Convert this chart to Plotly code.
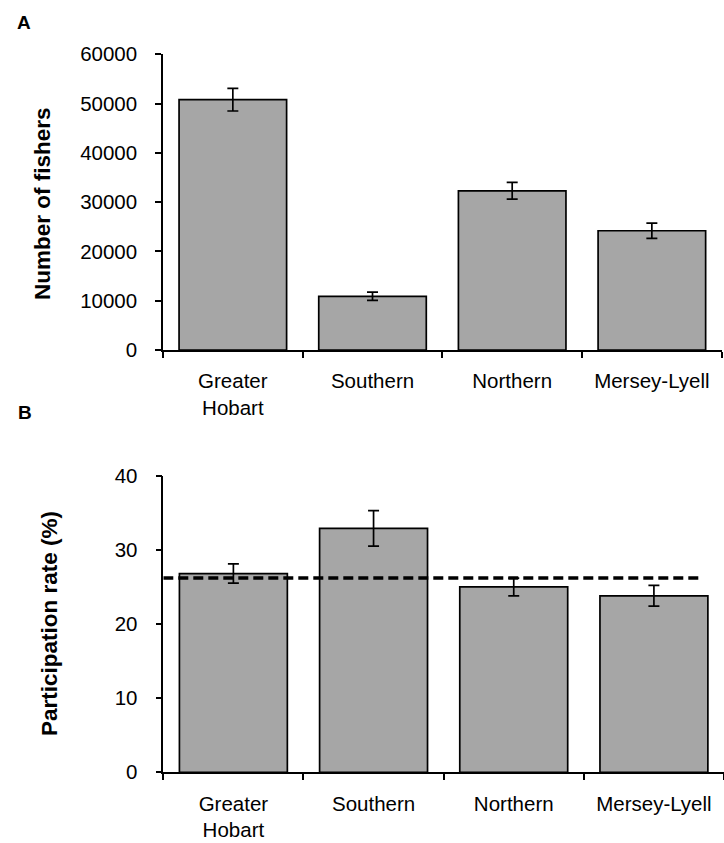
import plotly.graph_objects as go

regions = ["Greater<br>Hobart", "Southern", "Northern", "Mersey-Lyell"]
fishers = [50800, 10900, 32300, 24200]
fishers_err = [2300, 850, 1700, 1550]
rate = [26.8, 32.9, 25.0, 23.8]
rate_err = [1.3, 2.4, 1.2, 1.4]
mean_rate = 26.2
fishers_ticks = [0, 10000, 20000, 30000, 40000, 50000, 60000]
rate_ticks = [0, 10, 20, 30, 40]

FONT = "Liberation Sans, Arial, sans-serif"
BAR = "#A6A6A6"
W, H = 724, 843
TICK_SIZE = 20.5
TITLE_SIZE = 22.5

fig = go.Figure()
bar_style = dict(marker=dict(color=BAR, line=dict(color="black", width=1.7)), showlegend=False)
err_style = dict(type="data", color="black", thickness=1.7, width=5.5)

fig.add_trace(go.Bar(x=regions, y=fishers, error_y=dict(array=fishers_err, **err_style),
                     xaxis="x", yaxis="y", **bar_style))
fig.add_trace(go.Bar(x=regions, y=rate, error_y=dict(array=rate_err, **err_style),
                     xaxis="x2", yaxis="y2", **bar_style))

xcommon = dict(type="category", showline=True, linecolor="black", linewidth=1.5,
               ticks="outside", tickson="boundaries", ticklen=6, tickcolor="black", tickwidth=1.5,
               tickfont=dict(family=FONT, size=TICK_SIZE, color="black"), showgrid=False,
               range=[-0.5, 3.5], ticklabelstandoff=12, fixedrange=True, automargin=False)
ycommon = dict(showline=True, linecolor="black", linewidth=1.5, ticks="outside", ticklen=6,
               tickcolor="black", tickwidth=1.5, showgrid=False, zeroline=False,
               tickfont=dict(family=FONT, size=TICK_SIZE, color="black"), ticklabelstandoff=14,
               tickformat="d", automargin=False, fixedrange=True)

fig.update_layout(
    template="none",
    width=W, height=H, margin=dict(l=0, r=0, t=0, b=0, autoexpand=False),
    paper_bgcolor="white", plot_bgcolor="white", bargap=0.23,
    xaxis=dict(domain=[163 / W, 721.7 / W], anchor="y", **xcommon),
    yaxis=dict(domain=[1 - 350 / H, 1 - 54.3 / H], anchor="x", range=[0, 60000],
               tickvals=fishers_ticks, **ycommon),
    xaxis2=dict(domain=[163.3 / W, 1.0], anchor="y2", **xcommon),
    yaxis2=dict(domain=[1 - 772.3 / H, 1 - 475.7 / H], anchor="x2", range=[0, 40],
                tickvals=rate_ticks, **ycommon),
)

fig.add_shape(type="line", xref="x2", yref="y2", x0=-0.5, x1=3.34, y0=mean_rate, y1=mean_rate,
              line=dict(color="black", width=3.5, dash="10px,5px"), layer="above")

def note(text, x, y, size, angle=0):
    fig.add_annotation(text=text, x=x / W, y=1 - y / H, xref="paper", yref="paper",
                       showarrow=False, textangle=angle, xanchor="center", yanchor="middle",
                       font=dict(family=FONT, size=size, color="black"))

note("<b>Number of fishers</b>", 42, 204, TITLE_SIZE, -90)
note("<b>Participation rate (%)</b>", 49, 624, TITLE_SIZE, -90)
note("<b>A</b>", 24, 22, 19)
note("<b>B</b>", 25, 412, 19)

fig.write_html("out.html")
